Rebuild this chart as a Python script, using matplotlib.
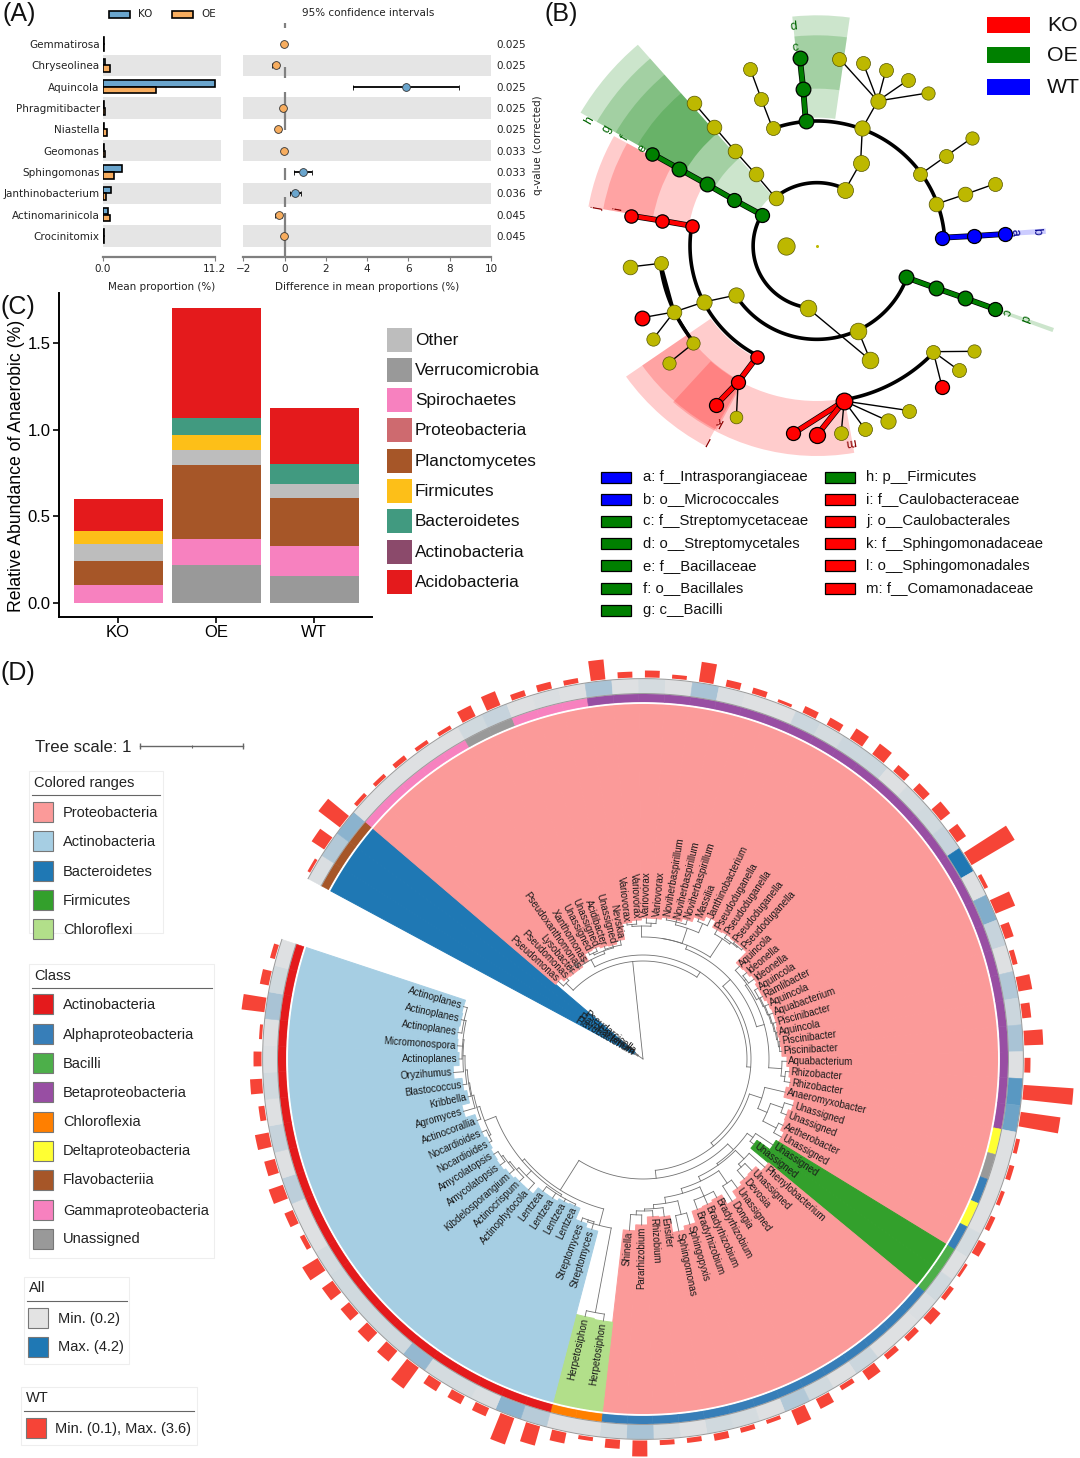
import numpy as np
import matplotlib
matplotlib.use("Agg")
import matplotlib.pyplot as plt
from matplotlib.patches import Rectangle, Wedge
from matplotlib.colors import LinearSegmentedColormap
import matplotlib.patheffects as pe

plt.rcParams['font.family'] = ['Liberation Sans', 'DejaVu Sans']
W, H = 1080, 1458
fig = plt.figure(figsize=(W / 100, H / 100), dpi=100, facecolor='white')


def px_axes(l, t, r, b, **kw):
    return fig.add_axes([l / W, 1 - b / H, (r - l) / W, (b - t) / H], **kw)


# ---------------------------------------------------------------- panel A data
genera = ['Gemmatirosa', 'Chryseolinea', 'Aquincola', 'Phragmitibacter', 'Niastella',
          'Geomonas', 'Sphingomonas', 'Janthinobacterium', 'Actinomarinicola', 'Crocinitomix']
ko_mean = [0.12, 0.28, 11.2, 0.15, 0.15, 0.15, 1.98, 0.87, 0.5, 0.1]
oe_mean = [0.15, 0.7, 5.37, 0.2, 0.45, 0.2, 1.1, 0.35, 0.76, 0.15]
diff_mean = [-0.05, -0.4, 5.9, -0.08, -0.3, -0.05, 0.9, 0.5, -0.28, -0.05]
diff_low = [-0.12, -0.6, 3.3, -0.15, -0.42, -0.12, 0.45, 0.25, -0.45, -0.1]
diff_high = [0.02, -0.25, 8.45, 0.0, -0.18, 0.02, 1.35, 0.8, -0.12, 0.0]
q_values = ['0.025', '0.025', '0.025', '0.025', '0.025', '0.033', '0.033', '0.036', '0.045', '0.045']

# ---------------------------------------------------------------- panel C data
groups = ['KO', 'OE', 'WT']
phyla_stack = ['Verrucomicrobia', 'Spirochaetes', 'Planctomycetes', 'Other', 'Firmicutes',
               'Bacteroidetes', 'Acidobacteria']
stack_values = {
    'Verrucomicrobia': [0.0, 0.22, 0.156],
    'Spirochaetes': [0.104, 0.15, 0.173],
    'Planctomycetes': [0.139, 0.427, 0.277],
    'Other': [0.098, 0.087, 0.08],
    'Firmicutes': [0.075, 0.087, 0.0],
    'Bacteroidetes': [0.0, 0.098, 0.115],
    'Acidobacteria': [0.185, 0.635, 0.323],
}
legend_phyla = ['Other', 'Verrucomicrobia', 'Spirochaetes', 'Proteobacteria', 'Planctomycetes',
                'Firmicutes', 'Bacteroidetes', 'Actinobacteria', 'Acidobacteria']
phylum_colors = {'Other': '#BDBDBD', 'Verrucomicrobia': '#999999', 'Spirochaetes': '#F781BF',
                 'Proteobacteria': '#CE6A6F', 'Planctomycetes': '#A65628', 'Firmicutes': '#FDBF18',
                 'Bacteroidetes': '#419A80', 'Actinobacteria': '#8B4A6B', 'Acidobacteria': '#E41A1C'}

# ---------------------------------------------------------------- panel B data
YEL, RED, GRN, BLU = '#BDB800', '#FF0000', '#007F00', '#0000FF'
node_x = [764, 757, 747, 667, 634, 602, 930, 975, 863, 932, 999, 1063, 1122, 925, 880, 1100, 1176, 1251,
          1145, 1232, 1320, 1165, 1257, 1349, 1058, 1145, 1232, 1319, 918, 953, 771, 705, 677, 636, 555,
          475, 394, 315, 617, 556, 496, 436, 432, 342, 251, 561, 466, 378, 285, 316, 339, 248, 435, 363,
          622, 566, 500, 561, 877, 728, 798, 868, 937, 1004, 1068, 1138, 1257, 1213, 1164]
node_y = [362, 268, 174, 385, 297, 208, 385, 303, 176, 188, 211, 241, 279, 488, 569, 523, 468, 414,
          613, 583, 551, 713, 708, 702, 832, 864, 895, 927, 992, 1080, 925, 737, 595, 645, 600,
          553, 507, 462, 522, 452, 380, 308, 678, 662, 647, 885, 906, 936, 953, 1018, 790, 801, 1030, 1089,
          1070, 1146, 1216, 1250, 1203, 1300, 1304, 1300, 1286, 1262, 1232, 1055, 1054, 1111, 1162]
node_d = [44, 44, 44, 42, 42, 42, 46, 46, 42, 42, 42, 42, 40, 48, 48, 42, 42, 40,
          44, 44, 42, 42, 42, 42, 44, 44, 44, 42, 50, 50, 50, 52, 44, 42, 42,
          44, 44, 40, 44, 44, 44, 44, 40, 40, 40, 46, 46, 44, 44, 40, 42, 44, 40, 40,
          40, 42, 42, 38, 50, 42, 48, 42, 42, 46, 42, 42, 40, 42, 42]
node_c = [GRN, GRN, GRN, YEL, YEL, YEL, YEL, YEL, YEL, YEL, YEL, YEL, YEL, YEL, YEL, YEL, YEL, YEL,
          YEL, YEL, YEL, BLU, BLU, BLU, GRN, GRN, GRN, GRN, YEL, YEL, YEL, YEL, YEL, GRN, GRN,
          GRN, GRN, GRN, YEL, YEL, YEL, YEL, RED, RED, RED, YEL, YEL, YEL, RED, YEL, YEL, YEL, YEL, YEL,
          RED, RED, RED, YEL, RED, RED, RED, YEL, YEL, YEL, YEL, YEL, YEL, YEL, RED]
thin_from = [3, 4, 6, 7, 7, 7, 7, 7, 6, 13, 15, 16, 18, 19, 28, 29, 32, 38, 39, 40, 45, 46, 47, 47, 50, 52,
             55, 58, 58, 58, 58, 65, 65, 65]
thin_to = [4, 5, 7, 8, 9, 10, 11, 12, 13, 14, 16, 17, 19, 20, 29, 30, 38, 39, 40, 41, 46, 47, 48, 49, 51, 53,
           57, 61, 62, 63, 64, 66, 67, 68]
thick_from = [0, 1, 21, 22, 24, 25, 26, 33, 34, 35, 36, 42, 43, 54, 55, 58, 58]
thick_to = [1, 2, 22, 23, 25, 26, 27, 34, 35, 36, 37, 43, 44, 55, 56, 59, 60]
black_thick_from = [50, 47]
black_thick_to = [47, 52]
arc_r = [187, 190, 280, 375, 372, 468, 462]
arc_from = [150, 64, 212, 4, 171, -80, 186]
arc_to = [262, 130, 340, 110, 242, -43, 219]
sector_a1 = [131, 131, 131, 131, 82, 82, 151, 151, -145, -145, -132, 3.1, -20.5]
sector_a2 = [150, 150, 150, 150, 96, 96, 170, 170, -118.5, -118, -80, 4.5, -19.5]
sector_r1 = [200, 348, 447, 447, 385, 472, 380, 488, 380, 463, 465, 555, 540]
sector_r2 = [800, 745, 681, 607, 692, 632, 680, 636, 683, 625, 630, 672, 737]
sector_c = [GRN, GRN, GRN, GRN, GRN, GRN, RED, RED, RED, RED, RED, BLU, GRN]
letter_txt = ['a', 'b', 'c', 'd', 'c', 'd', 'e', 'f', 'g', 'h', 'i', 'j', 'k', 'l', 'm']
letter_x = [1378, 1440, 1350, 1403, 735, 728, 285, 235, 183, 130, 215, 155, 512, 480, 897]
letter_y = [697, 695, 935, 955, 143, 80, 445, 415, 388, 360, 628, 625, 1262, 1320, 1325]
letter_c = ['#00008B', '#00008B', '#006400', '#006400', '#006400', '#006400', '#006400', '#006400',
            '#006400', '#006400', '#8B0000', '#8B0000', '#8B0000', '#8B0000', '#8B0000']
lefse_left = ['a: f__Intrasporangiaceae', 'b: o__Micrococcales', 'c: f__Streptomycetaceae',
              'd: o__Streptomycetales', 'e: f__Bacillaceae', 'f: o__Bacillales', 'g: c__Bacilli']
lefse_left_c = [BLU, BLU, GRN, GRN, GRN, GRN, GRN]
lefse_right = ['h: p__Firmicutes', 'i: f__Caulobacteraceae', 'j: o__Caulobacterales',
               'k: f__Sphingomonadaceae', 'l: o__Sphingomonadales', 'm: f__Comamonadaceae']
lefse_right_c = [GRN, RED, RED, RED, RED, RED]

# ---------------------------------------------------------------- panel D data
leaf_names = ['Flavobacterium', 'Flavobacterium', 'Pseudarcicella',
              'Pseudomonas', 'Pseudomonas', 'Lysobacter', 'Pseudoxanthomonas', 'Xanthomonas', 'Unassigned',
              'Unassigned', 'Acidibacter', 'Unassigned', 'Nevskia', 'Variovorax', 'Variovorax', 'Variovorax',
              'Variovorax', 'Noviherbaspirillum', 'Noviherbaspirillum', 'Noviherbaspirillum', 'Massilia',
              'Janthinobacterium', 'Pseudoduganella', 'Pseudoduganella', 'Pseudoduganella', 'Pseudoduganella',
              'Aquincola', 'Ideonella', 'Ideonella', 'Aquincola', 'Ramlibacter', 'Aquincola', 'Aquabacterium',
              'Piscinibacter', 'Aquincola', 'Piscinibacter', 'Piscinibacter', 'Aquabacterium', 'Rhizobacter',
              'Rhizobacter', 'Anaeromyxobacter', 'Unassigned', 'Unassigned', 'Aetherobacter', 'Unassigned',
              'Unassigned', 'Unassigned', 'Phenylobacterium', 'Unassigned', 'Devosia', 'Unassigned', 'Dongia',
              'Bradyrhizobium', 'Bradyrhizobium', 'Bradyrhizobium', 'Sphingopyxis', 'Sphingomonas', 'Ensifer',
              'Rhizobium', 'Pararhizobium', 'Shinella', 'Herpetosiphon', 'Herpetosiphon', 'Streptomyces',
              'Streptomyces', 'Lentzea', 'Lentzea', 'Lentzea', 'Lentzea', 'Actinophytocola', 'Actinocrispum',
              'Kibdelosporangium', 'Amycolatopsis', 'Amycolatopsis', 'Nocardioides', 'Nocardioides',
              'Actinocorallia', 'Agromyces', 'Kribbella', 'Blastococcus', 'Oryzihumus', 'Actinoplanes',
              'Micromonospora', 'Actinoplanes', 'Actinoplanes', 'Actinoplanes']
tip_r = [10, 10, 10, 115, 111, 110, 110, 112, 120, 121, 119, 118, 121, 137, 139, 141, 141, 143, 143, 146,
         151, 156, 149, 150, 149, 149, 134, 135, 137, 135, 135, 137, 138, 138, 137, 138, 139, 144, 147, 149,
         146, 157, 154, 155, 159, 156, 140, 163, 156, 157, 160, 168, 157, 159, 160, 172, 176, 159, 158, 166,
         172, 265, 264, 178, 174, 162, 163, 166, 166, 174, 174, 176, 178, 177, 175, 177, 177, 187, 179, 182,
         190, 184, 186, 187, 186, 187]
phylum_counts = [3, 42, 2, 14, 2, 23]
phylum_names = ['Bacteroidetes', 'Proteobacteria', 'Firmicutes', 'Proteobacteria', 'Chloroflexi', 'Actinobacteria']
range_colors = {'Proteobacteria': '#FB9A99', 'Actinobacteria': '#A6CEE3', 'Bacteroidetes': '#1F78B4',
                'Firmicutes': '#33A02C', 'Chloroflexi': '#B2DF8A'}
class_counts = [3, 5, 2, 3, 27, 1, 1, 1, 1, 1, 2, 14, 2, 23]
class_names = ['Flavobacteriia', 'Gammaproteobacteria', 'Unassigned', 'Gammaproteobacteria', 'Betaproteobacteria',
               'Deltaproteobacteria', 'Unassigned', 'Alphaproteobacteria', 'Deltaproteobacteria',
               'Alphaproteobacteria', 'Bacilli', 'Alphaproteobacteria', 'Chloroflexia', 'Actinobacteria']
class_colors = {'Actinobacteria': '#E41A1C', 'Alphaproteobacteria': '#377EB8', 'Bacilli': '#4DAF4A',
                'Betaproteobacteria': '#984EA3', 'Chloroflexia': '#FF7F00', 'Deltaproteobacteria': '#FFFF33',
                'Flavobacteriia': '#A65628', 'Gammaproteobacteria': '#F781BF', 'Unassigned': '#999999'}
all_values = [0.4, 1.2, 2.0, 0.3, 0.3, 0.3, 0.3, 0.3, 0.6, 0.8, 0.3, 0.4, 0.3, 1.4, 0.3, 0.5, 0.3, 1.4, 0.4, 0.3,
              0.3, 0.7, 0.5, 0.7, 0.7, 0.3, 0.5, 0.6, 0.8, 4.2, 0.3, 2.2, 0.8, 0.3, 1.2, 0.7, 1.4, 0.3, 3.0, 2.6,
              0.3, 0.3, 0.3, 0.3, 0.5, 0.3, 0.6, 0.4, 0.3, 0.3, 0.7, 0.3, 0.6, 1.2, 0.3, 0.5, 0.6, 0.3, 0.5, 1.4,
              0.6, 0.3, 0.3, 1.1, 2.0, 0.4, 0.5, 0.5, 1.8, 0.6, 0.6, 0.6, 0.6, 0.5, 0.3, 0.3, 1.0, 0.3, 0.8, 0.3,
              0.6, 0.4, 0.3, 1.4, 0.6, 0.3]
wt_values = [0.31, 1.15, 1.99, 0.38, 0.38, 0.45, 0.38, 0.38, 0.94, 1.15, 0.52, 0.59, 0.45, 1.5, 0.52, 0.59, 0.38, 1.5,
             0.59, 0.52, 0.31, 0.59, 0.66, 0.94, 1.01, 0.66, 0.73, 0.94, 0.87, 3.6, 0.38, 1.57, 0.73, 0.45, 1.08,
             0.73, 1.43, 0.52, 3.6, 2.9, 0.38, 0.45, 0.38, 0.45, 0.66, 0.31, 0.45, 0.8, 0.52, 0.52, 0.87, 0.45,
             0.87, 1.22, 0.38, 0.45, 0.59, 0.45, 0.45, 1.22, 0.73, 0.38, 0.87, 1.5, 2.06, 0.73, 0.73, 0.8, 1.92,
             1.08, 1.01, 0.87, 1.01, 1.36, 0.45, 0.73, 1.15, 0.87, 1.08, 0.52, 0.94, 0.66, 0.31, 1.71, 0.73, 0.45]
# tree topology: (node radius, children); integers are 1-based leaf numbers
cl_x = (122, [(133, [(135, [14, 15]), (136, [16, 17])]), (138, [(141, [18, 19, 20]), (148, [21, 22])])])
cl_y = (144, [23, (146, [24, (147, [25, 26])])])
cl_z = (128, [27, (130, [28, 29]), (131, [30, (132, [31, (133, [32, (134, [33, (135, [34, (136, [35, (137, [36, 37])])])])])])])])
cl_w = (139, [38, (143, [39, 40])])
cl_au = (125, [41, (135, [(148, [42, 43]), (150, [44, 45])])])
cl_al = (130, [(142, [48, (146, [49, 50])]), (135, [(150, [51, 52]), (140, [(150, [53, 54, 55]),
         (146, [(160, [56, 57]), (150, [58, (152, [59, (156, [60, 61])])])])])])])
cl_ac = (155, [(172, [(258, [62, 63]), (170, [64, 65])]), (158, [(160, [66, 67, 68, 69]),
         (165, [70, (168, [71, (170, [72, (172, [73, 74])])])]),
         (170, [(172, [75, 76]), (173, [77, (175, [78, (176, [79, (178, [80, (180, [81, (181, [82, 83, (183, [84, 85, 86])])])])])])])])])])
cl_ga = (112, [(116, [6, 7, 8]), (115, [(117, [9, 10]), (116, [11, 12, 13])])])
tree = (0, [(6, [1, 2, 3]),
            (98, [(108, [4, 5]),
                  (104, [cl_ga,
                         (108, [(118, [(122, [cl_x, cl_y]), (126, [cl_z, cl_w])]),
                                (112, [cl_au, (120, [(128, [(135, [46, 47]), cl_al]), cl_ac])])])])])])

# ---------------------------------------------------------------- overlays
ax_px = fig.add_axes([0, 0, 1, 1], zorder=5)
ax_px.set_xlim(0, W)
ax_px.set_ylim(H, 0)
ax_px.axis('off')
ax_px.patch.set_alpha(0)

for s, x, y in [('(A)', 2, 14), ('(B)', 545, 14), ('(C)', 1, 307), ('(D)', 1, 673)]:
    ax_px.text(x, y, s, fontsize=18, va='center', ha='left', color='#111111')

# ---------------------------------------------------------------- panel A
DJ = ['DejaVu Sans']
AFS = 7.5
rows = np.arange(len(genera))
KOc, OEc = '#6AA5CD', '#F7AD5F'
axL = px_axes(102.5, 33.3, 220.7, 257)
axL.set_xlim(0, 11.79)
axL.set_ylim(9.99, -0.5)
for i in rows[1::2]:
    axL.axhspan(i - .5, i + .5, color='#E5E5E5', lw=0, zorder=0)
axL.barh(rows - 0.16, ko_mean, height=0.31, color=KOc, edgecolor='black', lw=1.2, zorder=2)
axL.barh(rows + 0.16, oe_mean, height=0.31, color=OEc, edgecolor='black', lw=1.2, zorder=2)
axL.set_yticks(rows, genera, family=DJ, fontsize=AFS, color='#222222')
axL.tick_params(axis='y', length=0, pad=2)
axL.set_xticks([0, 11.2], ['0.0', '11.2'], family=DJ, fontsize=AFS, color='#222222')
axL.tick_params(axis='x', length=3, width=0.8, color='#7F7F7F', pad=2)
axL.set_xlabel('Mean proportion (%)', family=DJ, fontsize=AFS, color='#222222', labelpad=5.5)
axL.patch.set_alpha(0)
for sp in ['top', 'right', 'left']:
    axL.spines[sp].set_visible(False)
axL.spines['bottom'].set_bounds(0, 11.2)
axL.spines['bottom'].set_color('#7F7F7F')
axL.spines['bottom'].set_linewidth(1.6)

axR = px_axes(243.3, 33.3, 491, 257)
axR.set_xlim(-2, 10)
axR.set_ylim(9.99, -0.5)
for i in rows[1::2]:
    axR.axhspan(i - .5, i + .5, color='#E5E5E5', lw=0, zorder=0)
dash_from = [-0.97, 1.06, 2.24, 5.83, 7.16, 7.94]
dash_to = [-0.73, 1.61, 4.03, 6.4, 7.63, 9.99]
axR.vlines(np.zeros(len(dash_from)), dash_from, dash_to, color='#808080', lw=1.6, zorder=1, clip_on=False)
for i in rows:
    col = KOc if diff_mean[i] > 0 else OEc
    axR.errorbar(diff_mean[i], i, xerr=[[diff_mean[i] - diff_low[i]], [diff_high[i] - diff_mean[i]]],
                 fmt='o', ms=5.6, mfc=col, mec='#333333', mew=0.6, ecolor='black', elinewidth=1.3,
                 capsize=1.8, capthick=0.9, zorder=3)
axR.yaxis.tick_right()
axR.set_yticks(rows, q_values, family=DJ, fontsize=AFS, color='#222222')
axR.tick_params(axis='y', length=0, pad=4)
axR.yaxis.set_label_position('right')
axR.set_ylabel('q-value (corrected)', family=DJ, fontsize=AFS, color='#222222', labelpad=5)
axR.set_xticks(np.arange(-2, 11, 2), ['\u22122', '0', '2', '4', '6', '8', '10'], family=DJ, fontsize=AFS, color='#222222')
axR.tick_params(axis='x', length=3, width=0.8, color='#7F7F7F', pad=2)
axR.set_xlabel('Difference in mean proportions (%)', family=DJ, fontsize=AFS, color='#222222', labelpad=5.5)
axR.patch.set_alpha(0)
for sp in ['top', 'right', 'left']:
    axR.spines[sp].set_visible(False)
axR.spines['bottom'].set_color('#7F7F7F')
axR.spines['bottom'].set_linewidth(1.6)
ax_px.add_patch(Rectangle((109, 11), 21, 6.5, fc=KOc, ec='black', lw=1.2))
ax_px.add_patch(Rectangle((172, 11), 21, 6.5, fc=OEc, ec='black', lw=1.2))
ax_px.text(138, 14, 'KO', family=DJ, fontsize=AFS, va='center', color='#222222')
ax_px.text(201, 14, 'OE', family=DJ, fontsize=AFS, va='center', color='#222222')
ax_px.text(368, 13, '95% confidence intervals', family=DJ, fontsize=AFS, va='center', ha='center', color='#222222')

# ---------------------------------------------------------------- panel C
axC = px_axes(59, 293, 372, 617)
axC.set_xlim(-0.602, 2.59)
axC.set_ylim(-0.081, 1.789)
bottom = np.zeros(3)
for ph in phyla_stack:
    vals = np.array(stack_values[ph])
    axC.bar(range(3), vals, bottom=bottom, width=0.908, color=phylum_colors[ph], lw=0)
    bottom += vals
axC.set_xticks(range(3), groups, fontsize=12)
axC.set_yticks([0, .5, 1, 1.5], ['0.0', '0.5', '1.0', '1.5'], fontsize=12)
axC.tick_params(length=4, width=1.2, pad=2)
axC.set_ylabel('Relative Abundance of Anaerobic (%)', fontsize=12.7, labelpad=2, y=0.466)
axC.patch.set_alpha(0)
for sp in ['top', 'right']:
    axC.spines[sp].set_visible(False)
for sp in ['left', 'bottom']:
    axC.spines[sp].set_linewidth(1.4)
for name, y in zip(legend_phyla, [340, 370, 400, 430, 461, 491, 521, 552, 582]):
    ax_px.add_patch(Rectangle((387, y - 12), 25, 24, fc=phylum_colors[name], lw=0))
    ax_px.text(415, y, name, fontsize=12.4, va='center', color='#111111')

# ---------------------------------------------------------------- panel B
axB = px_axes(545, 0, 1080, 460)
axB.set_xlim(0, 1568)
axB.set_ylim(1380, 0)
axB.axis('off')
axB.patch.set_alpha(0)
bcx, bcy = 797, 738
for a1, a2, r1, r2, c in zip(sector_a1, sector_a2, sector_r1, sector_r2, sector_c):
    axB.add_patch(Wedge((bcx, bcy), r2, -a2, -a1, width=r2 - r1, fc=c, alpha=0.2, lw=0, zorder=1))
for r, a, b in zip(arc_r, arc_from, arc_to):
    t = np.radians(np.linspace(a, b, 120))
    axB.plot(bcx + r * np.cos(t), bcy - r * np.sin(t), color='black', lw=2.6, zorder=2, solid_capstyle='round')
nx, ny = np.array(node_x), np.array(node_y)
for a, b in zip(thin_from, thin_to):
    axB.plot(nx[[a, b]], ny[[a, b]], color='black', lw=1.0, zorder=2)
for a, b in zip(black_thick_from, black_thick_to):
    axB.plot(nx[[a, b]], ny[[a, b]], color='black', lw=2.2, zorder=2)
for a, b in zip(thick_from, thick_to):
    axB.plot(nx[[a, b]], ny[[a, b]], color=node_c[b], lw=3.2, zorder=2,
             path_effects=[pe.Stroke(linewidth=4.2, foreground='black'), pe.Normal()])
for x, y, d, c in zip(node_x, node_y, node_d, node_c):
    axB.plot([x], [y], 'o', ms=d / 3 * 0.72, mfc=c, mec='black' if c != YEL else '#555500', mew=0.9 if c != YEL else 0.5, zorder=3)
axB.plot([bcx], [bcy], 'o', ms=1.2, color=YEL, zorder=3)
for s, x, y, c in zip(letter_txt, letter_x, letter_y, letter_c):
    ang = np.degrees(np.arctan2(bcy - y, x - bcx))
    axB.text(x, y, s, color=c, fontsize=9, rotation=ang - 90, rotation_mode='anchor', ha='center', va='center', zorder=4)

for name, y, c in [('KO', 25, RED), ('OE', 55, '#008000'), ('WT', 87, BLU)]:
    ax_px.add_patch(Rectangle((987, y - 8), 43, 16, fc=c, lw=0))
    ax_px.text(1047, y, name, fontsize=15.3, va='center', color='#111111')
for names, cols, xr, xt in [(lefse_left, lefse_left_c, 601, 643), (lefse_right, lefse_right_c, 825, 866)]:
    for j, (name, c) in enumerate(zip(names, cols)):
        y = 477 + j * 22.2
        ax_px.add_patch(Rectangle((xr, y - 5.5), 30, 11, fc=c, ec='black', lw=0.9))
        ax_px.text(xt, y, name, fontsize=10.7, va='center', color='#111111')

# ---------------------------------------------------------------- panel D
CX, CY = 643, 1059
axD = fig.add_axes([0, 0, 1, 1], zorder=1)
axD.set_xlim(-CX, W - CX)
axD.set_ylim(CY - H, CY)
axD.axis('off')
axD.patch.set_alpha(0)
A0, STEP = 151.7, 4.07
n_leaf = len(leaf_names)
R_RANGE, R_C1, R_C2, R_H1, R_H2, R_BAR = 355, 357, 365, 366, 380, 381.5


def edge(i):
    return A0 - STEP * i


def center(i):
    return A0 - STEP * (i + 0.5)


leaf_phylum = np.repeat(phylum_names, phylum_counts)
leaf_class = np.repeat(class_names, class_counts)
heat = LinearSegmentedColormap.from_list('heat', ['#E3E3E3', '#1F78B4'])
for i in range(n_leaf):
    a2, a1 = edge(i), edge(i + 1)
    c = range_colors[leaf_phylum[i]]
    axD.add_patch(Wedge((0, 0), R_RANGE, a1, a2, width=R_RANGE - tip_r[i], fc=c, ec=c, lw=0.7, zorder=1))
    c = class_colors[leaf_class[i]]
    axD.add_patch(Wedge((0, 0), R_C2, a1, a2, width=R_C2 - R_C1, fc=c, ec=c, lw=0.4, zorder=1))
    c = heat((all_values[i] - 0.2) / 4.0)
    axD.add_patch(Wedge((0, 0), R_H2, a1, a2, width=R_H2 - R_H1, fc=c, ec=c, lw=0.4, zorder=1))
    mid = center(i)
    bar_len = (wt_values[i] - 0.1) / 3.5 * 50
    axD.add_patch(Wedge((0, 0), R_BAR + bar_len, mid - 1.1, mid + 1.1, width=bar_len, fc='#F64437', lw=0, zorder=1))
    # leaf label reading outward on the right half, inward on the left half
    x, y = (tip_r[i] + 1.5) * np.cos(np.radians(mid)), (tip_r[i] + 1.5) * np.sin(np.radians(mid))
    m = (mid + 180) % 360 - 180
    if -90 <= m <= 90:
        axD.text(x, y, leaf_names[i], fontsize=7, rotation=m, rotation_mode='anchor', ha='left', va='center',
                 color='#1A1A1A', zorder=3)
    else:
        axD.text(x, y, leaf_names[i], fontsize=7, rotation=m + 180, rotation_mode='anchor', ha='right', va='center',
                 color='#1A1A1A', zorder=3)
t = np.radians(np.linspace(edge(n_leaf), A0, 900))
for r in [R_C2 + 0.5, R_H2 + 0.4]:
    axD.plot(r * np.cos(t), r * np.sin(t), color='#9A9A9A', lw=0.7, zorder=2)
axD.plot(355.9 * np.cos(t), 355.9 * np.sin(t), color='white', lw=1.2, zorder=2)


def draw_tree(node):
    r, children = node
    angs = []
    ends = []
    for ch in children:
        if isinstance(ch, int):
            angs.append(center(ch - 1))
            ends.append(tip_r[ch - 1])
        else:
            angs.append(draw_tree(ch))
            ends.append(ch[0])
    for a, e in zip(angs, ends):
        ar = np.radians(a)
        axD.plot([r * np.cos(ar), e * np.cos(ar)], [r * np.sin(ar), e * np.sin(ar)], color='#707070', lw=0.6, zorder=2)
    tt = np.radians(np.linspace(angs[0], angs[-1], 60))
    axD.plot(r * np.cos(tt), r * np.sin(tt), color='#707070', lw=0.6, zorder=2)
    return (angs[0] + angs[-1]) / 2


draw_tree(tree)


# legends of panel D
LFS = 10.55


def legend_box(x0, y0, x1, y1, title, line_x0, line_x1, title_x):
    ax_px.add_patch(Rectangle((x0, y0), x1 - x0, y1 - y0, fc='none', ec='#EEEEEE', lw=0.8))
    ax_px.text(title_x, y0 + 11.5, title, fontsize=LFS, va='center', color='#222222')
    ax_px.plot([line_x0, line_x1], [y0 + 23.5, y0 + 23.5], color='#666666', lw=0.8)


def swatch(x, y, c, label, tx):
    ax_px.add_patch(Rectangle((x, y - 10), 20, 20, fc=c, ec='#777777', lw=0.8))
    ax_px.text(tx, y + 0.5, label, fontsize=LFS, va='center', color='#222222')


ax_px.text(35, 747, 'Tree scale: 1', fontsize=12.1, va='center', color='#222222')
ax_px.plot([140, 243], [746, 746], color='#666666', lw=1)
ax_px.vlines([140, 243], 743, 749, color='#666666', lw=1)
ax_px.vlines([191.5], 745, 748, color='#666666', lw=0.8)

legend_box(29, 771, 163, 933, 'Colored ranges', 32, 160, 34)
for nm, y in zip(['Proteobacteria', 'Actinobacteria', 'Bacteroidetes', 'Firmicutes', 'Chloroflexi'],
                 [812, 841, 871, 900, 929]):
    swatch(33, y, range_colors[nm], nm, 63)
legend_box(29, 964, 214, 1258, 'Class', 32, 212, 34)
for nm, y in zip(list(class_colors), [1004, 1034, 1063, 1092, 1122, 1151, 1180, 1210, 1239]):
    swatch(33, y, class_colors[nm], nm, 63)
legend_box(24, 1277, 129, 1364, 'All', 27, 127, 29)
swatch(28, 1318, '#E3E3E3', 'Min. (0.2)', 58)
swatch(28, 1347, '#1F78B4', 'Max. (4.2)', 58)
legend_box(21, 1387, 197, 1445, 'WT', 24, 194, 26)
swatch(26, 1428, '#F64437', 'Min. (0.1), Max. (3.6)', 55)

fig.savefig('out.png', dpi=100, facecolor='white')
